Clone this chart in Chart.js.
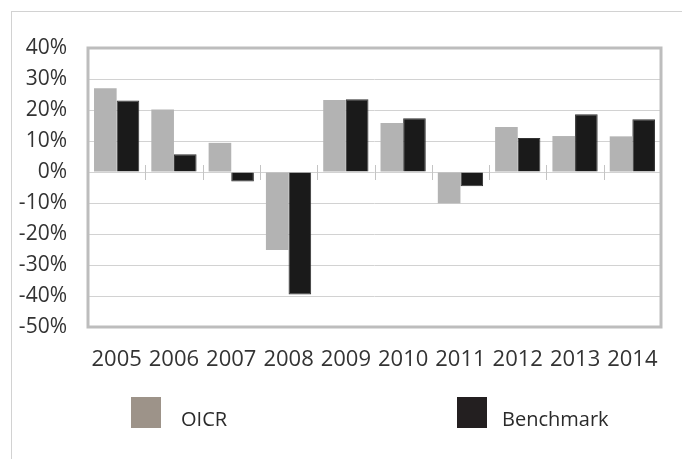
<!DOCTYPE html>
<html>
<head>
<meta charset="utf-8">
<script src="https://cdn.jsdelivr.net/npm/chart.js@4.4.1/dist/chart.umd.min.js"></script>
<style>
  body { margin: 0; background: #fff; font-family: "Open Sans", sans-serif; }
  #wrap { position: relative; width: 682px; height: 459px; overflow: hidden; }
  #frame { position: absolute; left: 11px; top: 11px; width: 700px; height: 500px;
           border-left: 1px solid #d2d2d2; border-top: 1px solid #d2d2d2; }
  canvas { position: absolute; left: 0; top: 0; }
  .sw { position: absolute; width: 30px; height: 31px; top: 397px; }
  .lbl { position: absolute; top: 405px; font-size: 20px; color: #2b2b2b; }
</style>
</head>
<body>
<div id="wrap">
  <div id="frame"></div>
  <canvas id="myBarChart" width="682" height="459"></canvas>
  <div class="sw" style="left:131px; background:#9d9389;"></div>
  <div class="lbl" style="left:181px;">OICR</div>
  <div class="sw" style="left:457px; background:#231f20;"></div>
  <div class="lbl" style="left:502px;">Benchmark</div>
</div>
<script>
const years = ["2005", "2006", "2007", "2008", "2009", "2010", "2011", "2012", "2013", "2014"];
const oicrReturns = [27.0, 20.2, 9.4, -25.2, 23.2, 15.8, -10.1, 14.5, 11.6, 11.5];
const benchmarkReturns = [23.1, 5.7, -3.1, -39.5, 23.5, 17.3, -4.6, 11.0, 18.6, 17.0];
const yMin = -50;
const yMax = 40;
const yStep = 10;

Chart.defaults.font.family = "'Open Sans', sans-serif";
Chart.defaults.color = "#333";

// frame round the plot and the little ticks between years on the 0% line
const plotFrame = {
  id: "plotFrame",
  afterDraw(chart) {
    const { ctx, chartArea, scales } = chart;
    const x = scales.x, y = scales.y;
    const y0 = y.getPixelForValue(0);
    ctx.save();
    ctx.strokeStyle = "#c4c4c4";
    ctx.lineWidth = 1;
    for (let i = 1; i < years.length; i++) {
      const bx = Math.round((x.getPixelForValue(i - 1) + x.getPixelForValue(i)) / 2) + 0.5;
      ctx.beginPath();
      ctx.moveTo(bx, y0 - 7);
      ctx.lineTo(bx, y0 + 8);
      ctx.stroke();
    }
    ctx.strokeStyle = "#bdbdbd";
    ctx.lineWidth = 3;
    ctx.strokeRect(chartArea.left, chartArea.top, chartArea.right - chartArea.left, chartArea.bottom - chartArea.top);
    ctx.restore();
  },
};

const ctx = document.getElementById("myBarChart");
const myBarChart = new Chart(ctx, {
  type: "bar",
  data: {
    labels: years,
    datasets: [
      {
        label: "OICR",
        data: oicrReturns,
        backgroundColor: "#b3b3b3",
        borderWidth: 0,
      },
      {
        label: "Benchmark",
        data: benchmarkReturns,
        backgroundColor: "#1a1a1a",
        borderColor: "#333",
        borderWidth: 1,
      },
    ],
  },
  options: {
    responsive: false,
    animation: false,
    layout: { padding: { top: 48, right: 21, bottom: 0, left: 0 } },
    datasets: { bar: { categoryPercentage: 0.79, barPercentage: 1.0 } },
    plugins: { legend: { display: false }, tooltip: { enabled: false } },
    scales: {
      x: {
        grid: { display: false },
        border: { display: false },
        ticks: { font: { size: 22 }, color: "#333", padding: 12, maxRotation: 0, autoSkip: false },
        afterFit: (scale) => { scale.height = 132; },
      },
      y: {
        min: yMin,
        max: yMax,
        grid: { color: "#d2d2d2", lineWidth: 1, drawTicks: false },
        border: { display: false },
        ticks: {
          stepSize: yStep,
          font: { size: 21 },
          color: "#333",
          padding: 21,
          callback: (v) => v + "%",
        },
        afterFit: (scale) => { scale.width = 88; },
      },
    },
  },
  plugins: [plotFrame],
});
</script>
</body>
</html>
